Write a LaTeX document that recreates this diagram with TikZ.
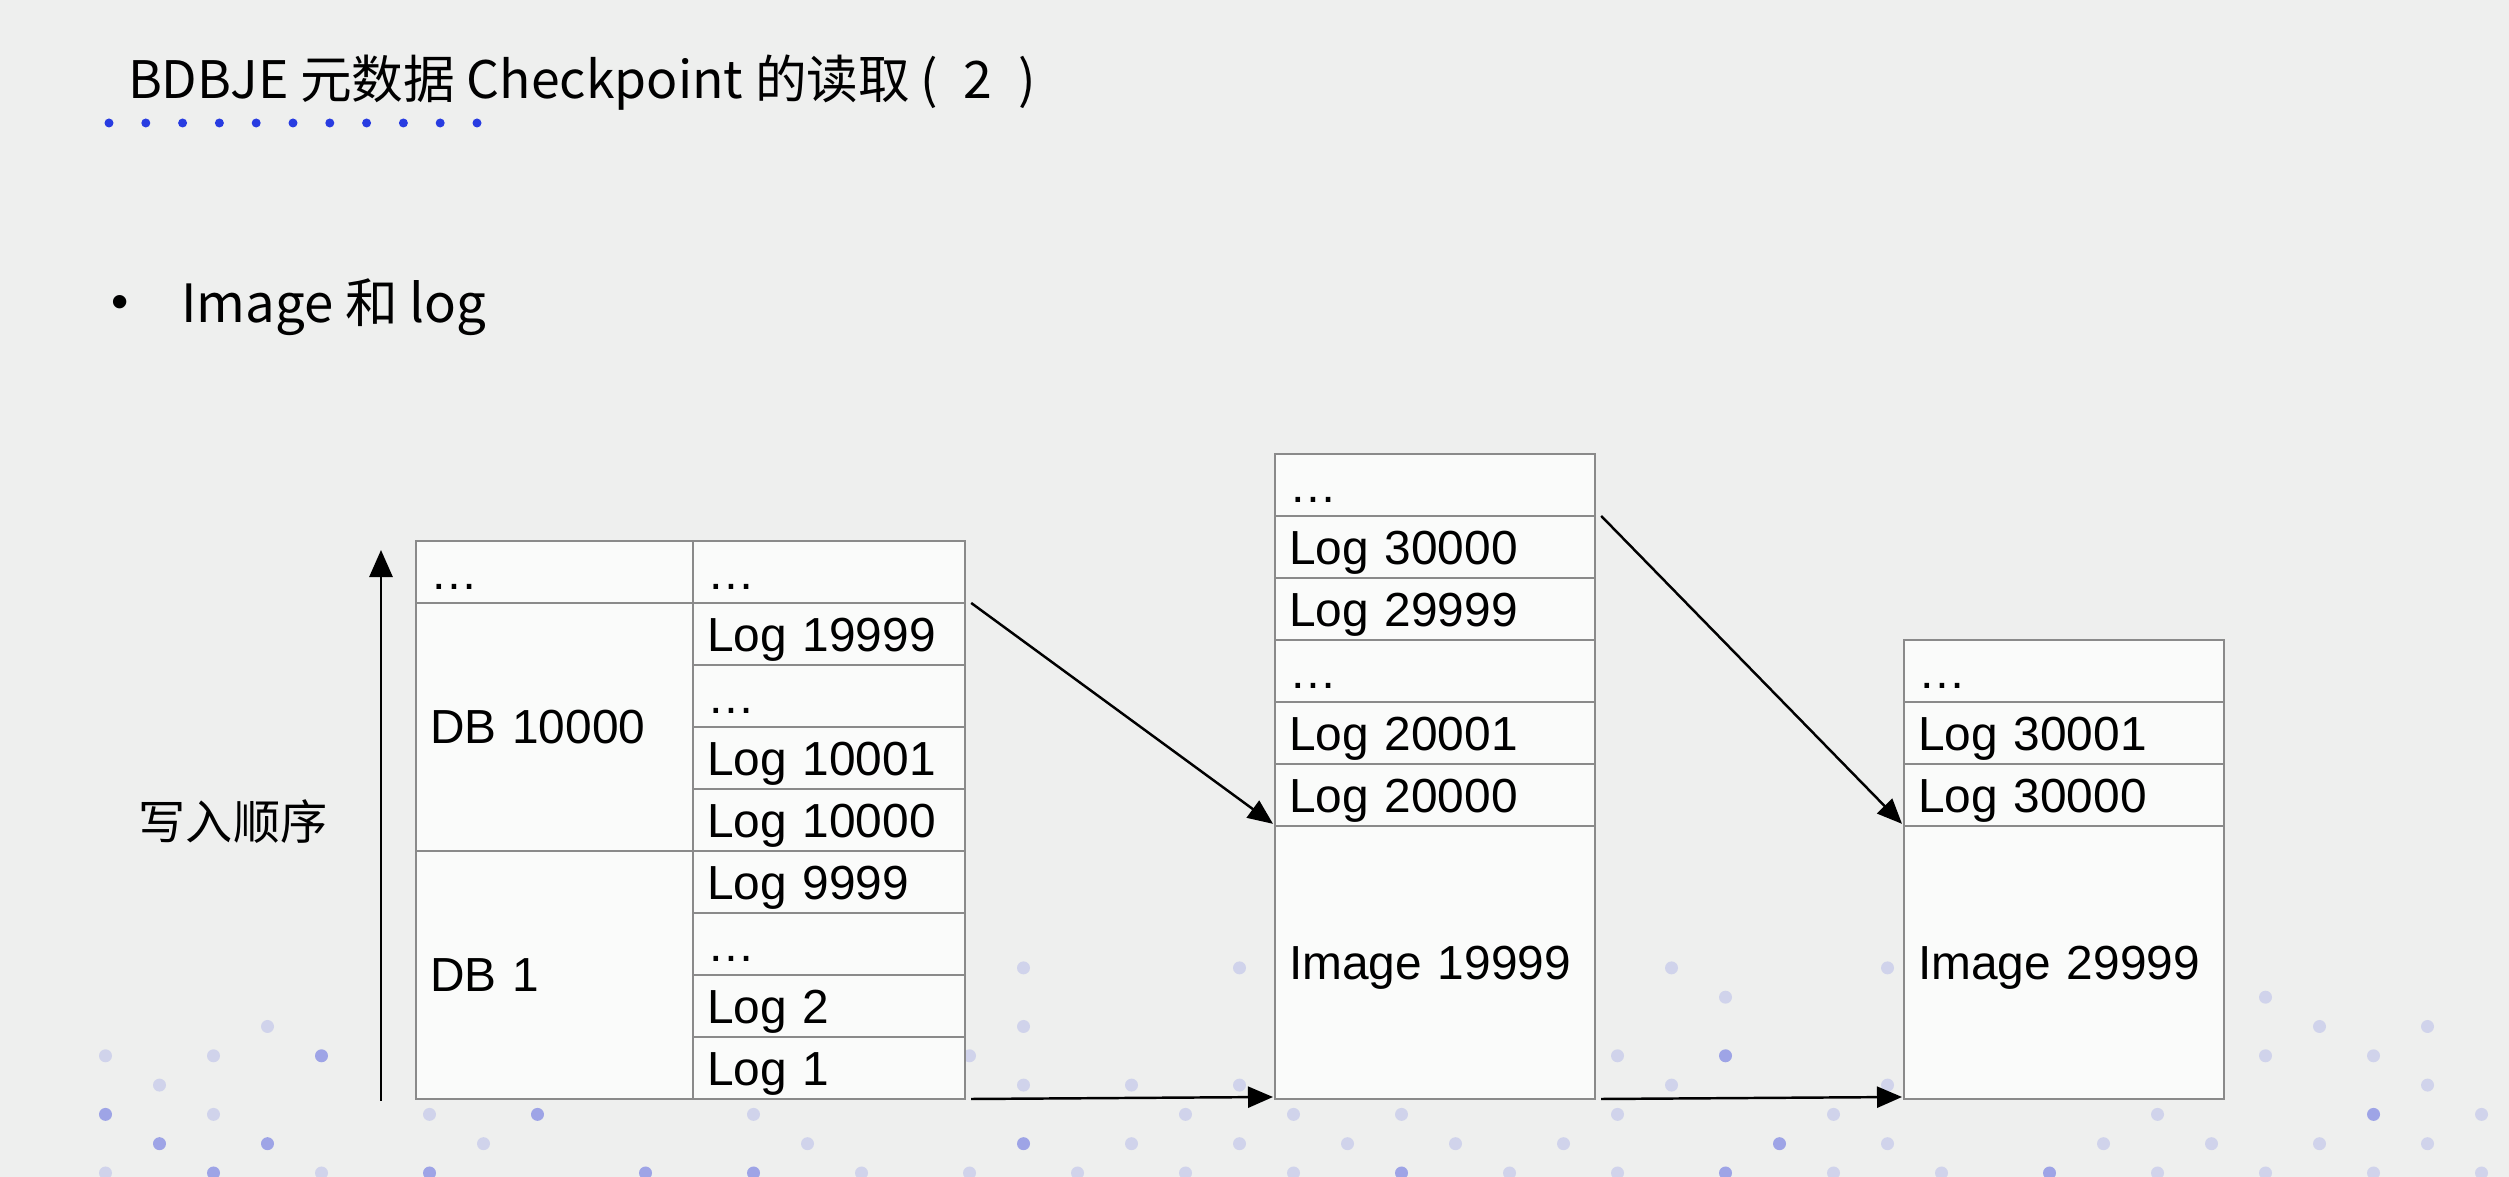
\documentclass[tikz,border=0pt]{standalone}
\usepackage{fontspec}
\setmainfont{Liberation Sans}
\newfontfamily\cjkfont{Noto Sans CJK SC}
\usetikzlibrary{arrows.meta}

\definecolor{bggray}{RGB}{238,239,238}
\definecolor{cellfill}{RGB}{250,251,250}
\definecolor{cellgray}{RGB}{138,138,138}
\definecolor{dotblue}{RGB}{105,115,225}
\definecolor{titleblue}{RGB}{40,60,225}

\begin{document}
\begin{tikzpicture}[x=0.01cm, y=-0.01cm,
every node/.style={inner sep=0pt, outer sep=0pt},
cell/.style={draw=cellgray, fill=cellfill, line width=0.6pt, anchor=south west,
    minimum height=0.62cm, text height=9.7pt, text depth=0pt, align=left,
    inner xsep=0.14cm, font=\fontsize{13.6pt}{16pt}\selectfont},
lcell/.style={cell, text width=2.44cm},
dbcell/.style={cell, text width=2.49cm, minimum height=2.48cm},
mcell/.style={cell, text width=2.92cm},
imgcell/.style={cell, text width=2.92cm, minimum height=2.73cm},
link/.style={line width=0.7pt, -{Triangle[length=0.25cm, width=0.21cm]}}
]
\useasboundingbox (0,0) rectangle (2509,1177);
\fill[bggray] (0,0) rectangle (2509,1177);

% background dots
\pgfmathsetseed{2509}
\foreach \r in {0,...,7}{
    \pgfmathsetmacro{\yy}{1173-29.3*\r}
    \pgfmathsetmacro{\xo}{mod(\r,2)==0 ? 105.5 : 159.5}
    \foreach \c in {0,...,22}{
        \pgfmathtruncatemacro{\keep}{rnd < (0.92-0.1*\r) ? 1 : 0}
        \pgfmathsetmacro{\op}{rnd < (0.4-0.05*\r) ? 0.6 : 0.22}
        \ifnum\keep=1 \fill[dotblue, fill opacity=\op] ({\xo+108*\c},\yy) circle[radius=6.5]; \fi
    }
}

% title
\node (title) [anchor=base west, font=\cjkfont\fontsize{14.7pt}{17pt}\selectfont]
    at (128,99) {BDBJE 元数据 Checkpoint 的读取\hspace{0.2em}(\hspace{0.5em}2\hspace{0.5em})};
\foreach \i in {0,...,10}
    \fill[titleblue] ({109+36.8*\i},123) circle[radius=4.5];

\node (bul) [font=\fontsize{14pt}{17pt}\selectfont] at (120,307) {•};
\node (item) [anchor=base west, font=\cjkfont\fontsize{15pt}{18pt}\selectfont]
    at (181,323) {Image 和 log};

% write order
\coordinate (ord-s) at (381,1101);
\coordinate (ord-e) at (381,550);
\draw[line width=0.8pt, -{Triangle[length=0.27cm, width=0.23cm]}] (ord-s) -- (ord-e);
\node (ord) [font=\cjkfont\fontsize{13.4pt}{16pt}\selectfont] at (233,822) {写入顺序};

% left table
\node[dbcell] (db1) at (416,1099) {DB 1};
\node[dbcell] (db2) at (416,851) {DB 10000};
\node[cell, text width=2.49cm] (ltop) at (416,603) {…};
\foreach \lbl [count=\k] in {Log 1, Log 2, …, Log 9999, Log 10000, Log 10001, …, Log 19999, …}
    \node[lcell] (l\k) at (693,{1099-62*(\k-1)}) {\lbl};

% middle table
\node[imgcell] (mimg) at (1275,1099) {Image 19999};
\foreach \lbl [count=\k] in {Log 20000, Log 20001, …, Log 29999, Log 30000, …}
    \node[mcell] (m\k) at (1275,{826-62*(\k-1)}) {\lbl};

% right table
\node[imgcell] (rimg) at (1904,1099) {Image 29999};
\foreach \lbl [count=\k] in {Log 30000, Log 30001, …}
    \node[mcell] (r\k) at (1904,{826-62*(\k-1)}) {\lbl};

\foreach \a/\b in {l8.north east/mimg.north west, l1.south east/mimg.south west,%
                   m5.north east/rimg.north west, mimg.south east/rimg.south west}
    \draw[link] ([xshift=0.06cm]\a) -- ([xshift=-0.02cm, yshift=0.02cm]\b);

\end{tikzpicture}
\end{document}
